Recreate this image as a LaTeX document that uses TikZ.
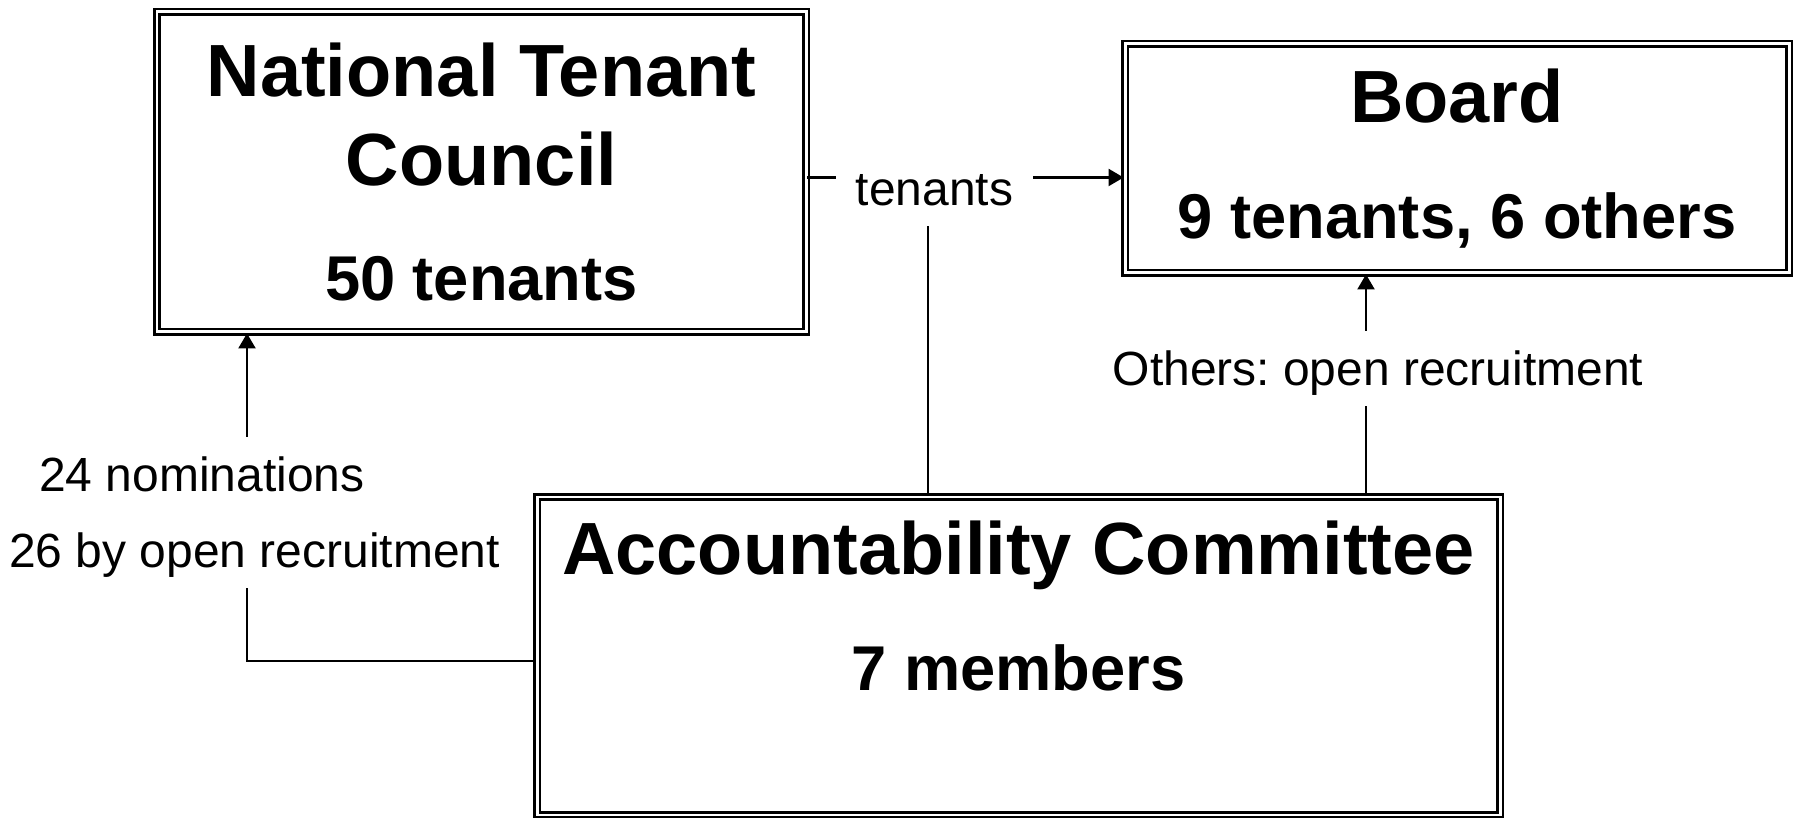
\documentclass[tikz,border=0pt]{standalone}
\usepackage{fontspec}
\setmainfont{Liberation Sans}
\frenchspacing
\usetikzlibrary{arrows.meta}

\newcommand{\subline}[1]{{\fontsize{18}{21.6}\selectfont #1}}

\begin{document}
\begin{tikzpicture}
[line width=0.6pt, >={Triangle[length=1.5mm,width=1.7mm]},
panel/.style={draw, double, line width=0.8pt, double distance=0.85pt, align=center, inner sep=0pt,
  font=\fontsize{21.05}{25.4}\selectfont\bfseries},
tag/.style={inner sep=0.19cm, text height=0.35cm, text depth=0pt, font=\fontsize{13.65}{16}\selectfont}]
\useasboundingbox (0,0) rectangle (17.96,-8.18);

\node[panel, minimum width=6.49cm, minimum height=3.2cm] (council) at (4.815,-1.72) {National Tenant\\Council\\[7.5pt]\subline{50 tenants}};
\node[panel, minimum width=6.64cm, minimum height=2.29cm] (board) at (14.57,-1.585) {Board\\[7.5pt]\subline{9 tenants, 6 others}};
\node[panel, minimum width=9.63cm, minimum height=3.18cm, text depth=1.01cm] (committee) at (10.185,-6.56) {Accountability Committee\\[7.5pt]\subline{7 members}};

\node[tag] (tenants) at (9.345,-1.885) {tenants};
\node[tag] (others) at (13.78,-3.685) {Others: open recruitment};
\node[tag] (nominated) at (2.02,-4.745) {24 nominations};
\node[tag] (recruited) at (2.545,-5.505) {26 by open recruitment};

\coordinate (tcol) at (9.28,-1.775);
\coordinate (ocol) at (13.66,0);
\coordinate (ncol) at (2.47,-6.61);

\draw (council.east |- tcol) -- (tenants.west |- tcol);
\draw [->] (tenants.east |- tcol) -- (board.west |- tcol);
\draw (committee.north -| tcol) -- (tenants.south -| tcol);
\draw [->] (others.north -| ocol) -- (board.south -| ocol);
\draw (committee.north -| ocol) -- (others.south -| ocol);
\draw [->] (nominated.north -| ncol) -- (council.south -| ncol);
\draw (committee.west |- ncol) -| (recruited.south -| ncol);
\end{tikzpicture}
\end{document}
